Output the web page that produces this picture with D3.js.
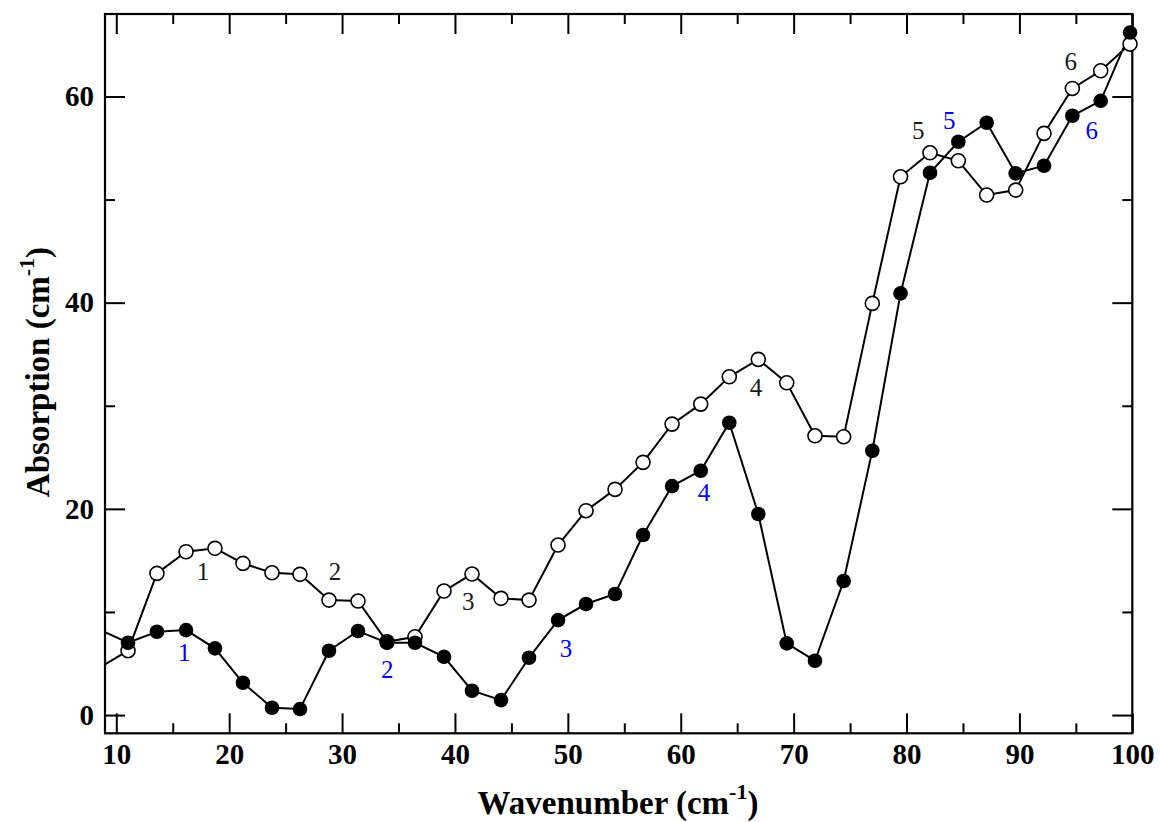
<!DOCTYPE html>
<html>
<head>
<meta charset="utf-8">
<script src="https://cdn.jsdelivr.net/npm/d3@7"></script>
<style>
  html, body { margin: 0; padding: 0; background: #fff; }
  svg { display: block; }
</style>
</head>
<body>
<svg id="chart" width="1160" height="822"></svg>
<script>
// Wavenumber grid (cm^-1); the first point lies just left of the axis and is clipped
const wavenumber = [8.5, 11.04, 13.6, 16.18, 18.74, 21.22, 23.79, 26.27, 28.84, 31.41, 33.98,
  36.46, 39.03, 41.51, 44.08, 46.56, 49.13, 51.61, 54.18, 56.66, 59.23,
  61.77, 64.3, 66.87, 69.39, 71.89, 74.43, 76.97, 79.47, 82.08, 84.59,
  87.1, 89.67, 92.18, 94.69, 97.2, 99.8];

// Absorption (cm^-1), open-circle series
const openSeries = [4.6, 6.24, 13.74, 15.84, 16.17, 14.71, 13.8, 13.65, 11.15, 11.06, 7.1,
  7.59, 12.03, 13.68, 11.32, 11.15, 16.49, 19.82, 21.89, 24.51, 28.22,
  30.16, 32.81, 34.5, 32.23, 27.09, 26.99, 39.93, 52.21, 54.54, 53.76,
  50.44, 50.92, 56.42, 60.78, 62.49, 65.08];

// Absorption (cm^-1), filled-circle series
const filledSeries = [8.3, 7.01, 8.08, 8.24, 6.47, 3.13, 0.71, 0.58, 6.24, 8.15, 7.01,
  7.01, 5.65, 2.36, 1.45, 5.56, 9.21, 10.77, 11.74, 17.46, 22.21,
  23.7, 28.35, 19.5, 6.95, 5.27, 13.0, 25.64, 40.9, 52.6, 55.61,
  57.45, 52.54, 53.28, 58.13, 59.58, 66.2];

// Mode numbers annotated on the curves
const openLabels = [
  { t: "1", x: 17.68, y: 13.9 }, { t: "2", x: 29.37, y: 13.9 },
  { t: "3", x: 41.18, y: 10.99 }, { t: "4", x: 66.67, y: 31.78 },
  { t: "5", x: 81.04, y: 56.74 }, { t: "6", x: 94.54, y: 63.37 }
];
const filledLabels = [
  { t: "1", x: 16.02, y: 6.04 }, { t: "2", x: 34.01, y: 4.46 },
  { t: "3", x: 49.84, y: 6.47 }, { t: "4", x: 62.06, y: 21.63 },
  { t: "5", x: 83.79, y: 57.71 }, { t: "6", x: 96.4, y: 56.67 }
];

const xMajor = [10, 20, 30, 40, 50, 60, 70, 80, 90, 100];
const xMinor = [15, 25, 35, 45, 55, 65, 75, 85, 95];
const yMajor = [0, 20, 40, 60];
const yMinor = [10, 30, 50];

const svg = d3.select("#chart");
const pLeft = 105, pRight = 1132.3, pTop = 14, pBottom = 733.3;
const x = d3.scaleLinear().domain([9, 100]).range([pLeft, pRight]);
const y = d3.scaleLinear().domain([-1.77, 68]).range([pBottom, pTop]);

const serif = "'Liberation Serif', 'Times New Roman', serif";

svg.append("defs").append("clipPath").attr("id", "plotClip")
  .append("rect").attr("x", pLeft).attr("y", pTop)
  .attr("width", pRight - pLeft).attr("height", pBottom - pTop);

function styleAxis(g) {
  g.select(".domain").remove();
  g.selectAll(".tick line").attr("stroke", "#000").attr("stroke-width", 2);
  g.selectAll("text").attr("font-family", serif).attr("font-weight", "bold")
    .attr("font-size", 29).attr("fill", "#000");
}

// bottom axis
svg.append("g").attr("transform", `translate(0,${pBottom})`)
  .call(d3.axisBottom(x).tickValues(xMajor).tickSize(-20).tickPadding(10).tickFormat(d3.format("d")))
  .call(styleAxis);
svg.append("g").attr("transform", `translate(0,${pBottom})`)
  .call(d3.axisBottom(x).tickValues(xMinor).tickSize(-10).tickFormat(""))
  .call(styleAxis);
// top axis
svg.append("g").attr("transform", `translate(0,${pTop})`)
  .call(d3.axisTop(x).tickValues(xMajor).tickSize(-20).tickFormat(""))
  .call(styleAxis);
svg.append("g").attr("transform", `translate(0,${pTop})`)
  .call(d3.axisTop(x).tickValues(xMinor).tickSize(-10).tickFormat(""))
  .call(styleAxis);
// left axis
svg.append("g").attr("transform", `translate(${pLeft},0)`)
  .call(d3.axisLeft(y).tickValues(yMajor).tickSize(-20).tickPadding(11).tickFormat(d3.format("d")))
  .call(styleAxis);
svg.append("g").attr("transform", `translate(${pLeft},0)`)
  .call(d3.axisLeft(y).tickValues(yMinor).tickSize(-10).tickFormat(""))
  .call(styleAxis);
// right axis
svg.append("g").attr("transform", `translate(${pRight},0)`)
  .call(d3.axisRight(y).tickValues(yMajor).tickSize(-20).tickFormat(""))
  .call(styleAxis);
svg.append("g").attr("transform", `translate(${pRight},0)`)
  .call(d3.axisRight(y).tickValues(yMinor).tickSize(-10).tickFormat(""))
  .call(styleAxis);

// frame
svg.append("rect").attr("x", pLeft).attr("y", pTop)
  .attr("width", pRight - pLeft).attr("height", pBottom - pTop)
  .attr("fill", "none").attr("stroke", "#000").attr("stroke-width", 2.2);

// series lines
const line = d3.line().x(d => x(d[0])).y(d => y(d[1]));
const openPts = wavenumber.map((w, i) => [w, openSeries[i]]);
const filledPts = wavenumber.map((w, i) => [w, filledSeries[i]]);

const plot = svg.append("g");
plot.append("path").datum(openPts).attr("d", line).attr("clip-path", "url(#plotClip)")
  .attr("fill", "none").attr("stroke", "#000").attr("stroke-width", 2);
plot.append("path").datum(filledPts).attr("d", line).attr("clip-path", "url(#plotClip)")
  .attr("fill", "none").attr("stroke", "#000").attr("stroke-width", 2);

const inside = d => d[0] >= x.domain()[0];
plot.selectAll("circle.open").data(openPts.filter(inside)).join("circle")
  .attr("class", "open").attr("cx", d => x(d[0])).attr("cy", d => y(d[1])).attr("r", 7)
  .attr("fill", "#fff").attr("stroke", "#000").attr("stroke-width", 1.6);
plot.selectAll("circle.filled").data(filledPts.filter(inside)).join("circle")
  .attr("class", "filled").attr("cx", d => x(d[0])).attr("cy", d => y(d[1])).attr("r", 7.3)
  .attr("fill", "#000").attr("stroke", "none");

// mode labels
function addLabels(data, color) {
  svg.append("g").selectAll("text").data(data).join("text")
    .attr("x", d => x(d.x)).attr("y", d => y(d.y))
    .attr("text-anchor", "middle").attr("dominant-baseline", "central")
    .attr("font-family", serif).attr("font-size", 25).attr("fill", color)
    .text(d => d.t);
}
addLabels(openLabels, "#1a1a1a");
addLabels(filledLabels, "#0000ff");

// axis titles
const xt = svg.append("text").attr("x", 618).attr("y", 814)
  .attr("text-anchor", "middle").attr("font-family", serif).attr("font-weight", "bold")
  .attr("font-size", 33).attr("fill", "#000");
xt.append("tspan").text("Wavenumber (cm");
xt.append("tspan").attr("dy", -15).attr("font-size", 22).text("-1");
xt.append("tspan").attr("dy", 15).text(")");

const yt = svg.append("text").attr("transform", "translate(49,372) rotate(-90)")
  .attr("text-anchor", "middle").attr("font-family", serif).attr("font-weight", "bold")
  .attr("font-size", 33).attr("fill", "#000");
yt.append("tspan").text("Absorption (cm");
yt.append("tspan").attr("dy", -15).attr("font-size", 22).text("-1");
yt.append("tspan").attr("dy", 15).text(")");
</script>
</body>
</html>
